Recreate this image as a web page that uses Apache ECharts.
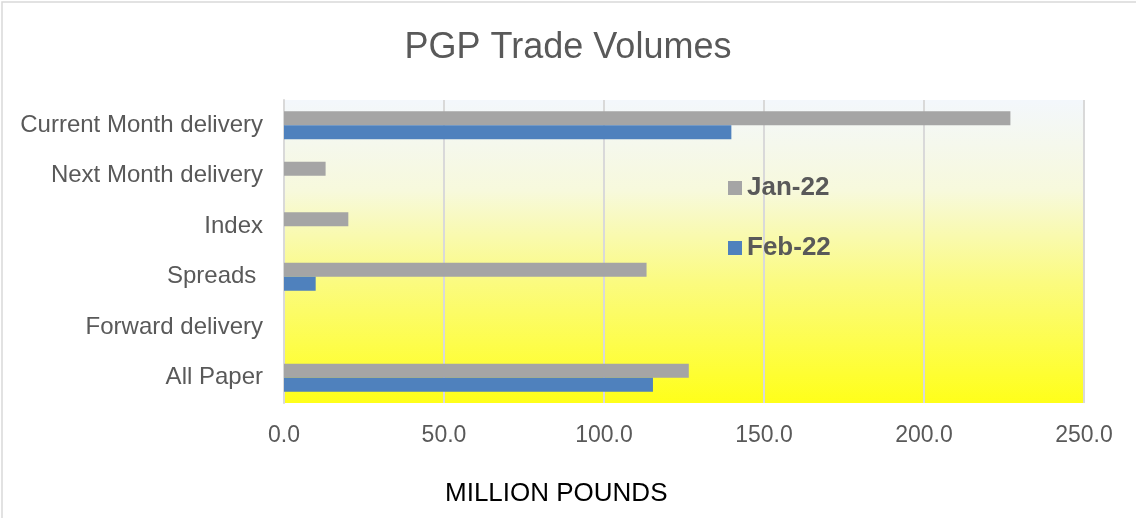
<!DOCTYPE html>
<html>
<head>
<meta charset="utf-8">
<script src="https://cdn.jsdelivr.net/npm/echarts@6/dist/echarts.min.js"></script>
<style>
  html, body { margin: 0; padding: 0; background: #fff; }
  #main { width: 1136px; height: 518px; }
</style>
</head>
<body>
<div id="main"></div>
<script>
// 数据
var categories = ['Current Month delivery', 'Next Month delivery', 'Index', 'Spreads ', 'Forward delivery', 'All Paper'];
var jan22 = [227.0, 13.0, 20.1, 113.3, 0, 126.5];
var feb22 = [139.8, 0, 0, 9.9, 0, 115.3];
var xTicks = [0, 50, 100, 150, 200, 250];

var myChart = echarts.init(document.getElementById('main'));

var option = {
    animation: false,
    textStyle: { fontFamily: 'Liberation Sans, Arial, sans-serif' },
    title: {
        text: 'PGP Trade Volumes',
        left: 'center',
        top: 25,
        textStyle: { color: '#595959', fontSize: 36, fontWeight: 'normal' }
    },
    graphic: [{
        type: 'rect',
        shape: { x: 2, y: 2, width: 1150, height: 530 },
        style: { fill: 'none', stroke: '#d9d9d9', lineWidth: 1.5 },
        silent: true
    }, {
        type: 'text',
        left: 445,
        top: 481,
        style: { text: 'MILLION POUNDS', fill: '#000', fontSize: 26, fontFamily: 'Liberation Sans, Arial, sans-serif' }
    }],
    legend: {
        orient: 'vertical',
        left: 723,
        top: 170,
        itemWidth: 14,
        itemHeight: 14,
        itemGap: 34,
        icon: 'rect',
        data: ['Jan-22', 'Feb-22'],
        textStyle: { color: '#595959', fontSize: 26, fontWeight: 'bold' }
    },
    grid: {
        left: 284,
        right: 52,
        top: 100,
        bottom: 115,
        show: true,
        borderWidth: 0,
        backgroundColor: new echarts.graphic.LinearGradient(0, 0, 0, 1, [
            { offset: 0, color: '#f3f7fc' },
            { offset: 0.3, color: '#f7f9dc' },
            { offset: 0.6, color: '#fbfb80' },
            { offset: 1, color: '#ffff1a' }
        ])
    },
    xAxis: {
        type: 'value',
        min: xTicks[0],
        max: xTicks[xTicks.length - 1],
        interval: 50,
        axisLine: { show: false },
        axisTick: { show: false },
        splitLine: { lineStyle: { color: '#d9d9d9', width: 2 } },
        axisLabel: {
            color: '#595959',
            fontSize: 23,
            margin: 21,
            formatter: function (v) { return v.toFixed(1); }
        }
    },
    yAxis: {
        type: 'category',
        inverse: true,
        data: categories,
        axisLine: { lineStyle: { color: '#d9d9d9', width: 2 } },
        axisTick: { show: false },
        axisLabel: { color: '#595959', fontSize: 24, margin: 21 }
    },
    series: [{
        name: 'Jan-22',
        type: 'bar',
        data: jan22,
        barWidth: 14,
        barGap: '0%',
        itemStyle: { color: '#a5a5a5' }
    }, {
        name: 'Feb-22',
        type: 'bar',
        data: feb22,
        barWidth: 14,
        barGap: '0%',
        itemStyle: { color: '#4f81bd' }
    }]
};

myChart.setOption(option);
</script>
</body>
</html>
